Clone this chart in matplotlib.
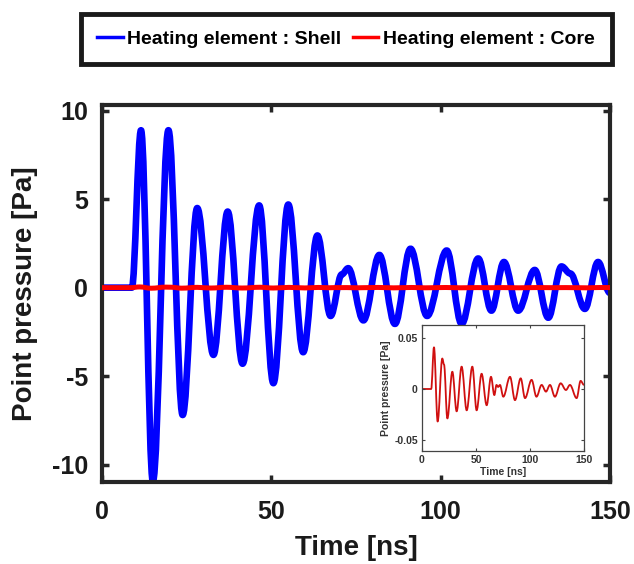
import matplotlib
matplotlib.use("Agg")
import matplotlib.pyplot as plt
from matplotlib.path import Path
from matplotlib.patches import PathPatch
from matplotlib.lines import Line2D

# --- values (turning points of each trace) ---
# Shell heating element: time [ns], point pressure [Pa]
shell_t = [0, 8.8, 11.5, 15.0, 19.6, 23.8, 28.1, 32.9, 37.1, 41.5, 46.4, 50.6,
           55.0, 59.4, 63.6, 67.5, 70.8, 72.7, 77.2, 81.9, 86.5, 91.1, 96.0,
           101.8, 106.2, 111.1, 115.0, 118.7, 122.9, 127.8, 131.8, 135.7,
           138.3, 142.6, 146.5, 150]
shell_p = [0, 0, 8.9, -10.95, 8.9, -7.2, 4.5, -3.8, 4.3, -4.3, 4.65, -5.4,
           4.7, -3.65, 2.95, -1.6, 0.75, 1.1, -1.85, 1.85, -2.05, 2.2, -1.6,
           2.1, -2.05, 1.65, -1.3, 1.45, -1.3, 1.0, -1.7, 1.2,
           0.8, -1.2, 1.45, -0.3]

# Core heating element: time [ns], point pressure [Pa]
core_t = [0, 8.5, 11.1, 14.5, 18.8, 20.4, 23.5, 28.1, 32.1, 36.7, 41.4, 46.6,
          50.6, 55.2, 59.9, 63.9, 67.0, 69.0, 70.5, 72.2, 75.3, 81.5, 86.1,
          91.4, 95.4, 101.5, 106.0, 110.8, 114.8, 118.5, 123.1, 128.4, 133.3,
          137.0, 143.2, 146.9, 150]
core_p = [0, 0, 0.041, -0.032, 0.030, 0.024, -0.029, 0.017, -0.022, 0.022,
          -0.021, 0.022, -0.021, 0.015, -0.016, 0.012, -0.006, 0.004, 0.002,
          0.004, -0.0076, 0.012, -0.011, 0.0105, -0.009, 0.009, -0.0076,
          0.004, -0.0026, 0.004, -0.0076, 0.0056, -0.001, 0.004, -0.009,
          0.008, 0.004]

x_ticks = [0, 50, 100, 150]
y_ticks = [-10, -5, 0, 5, 10]
inset_y_ticks = [-0.05, 0, 0.05]
inset_y_labels = ["-0.05", "0", "0.05"]
labels = ["Heating element : Shell", "Heating element : Core"]

BLUE = "#0000ff"
RED = "#ff0000"
DARK_RED = "#d01010"
AX_COL = "#262626"


def wave_path(t, p, k=0.36):
    # smooth curve through the turning points (flat tangent at each one)
    verts = [(t[0], p[0])]
    codes = [Path.MOVETO]
    for i in range(1, len(t)):
        dt = t[i] - t[i - 1]
        verts += [(t[i - 1] + k * dt, p[i - 1]), (t[i] - k * dt, p[i]), (t[i], p[i])]
        codes += [Path.CURVE4] * 3
    return Path(verts, codes)


plt.rcParams["font.family"] = ["Liberation Sans", "DejaVu Sans"]
plt.rcParams["font.weight"] = "bold"
plt.rcParams["axes.unicode_minus"] = False

fig = plt.figure(figsize=(6.34, 5.64), dpi=100)

# === main axes ===
ax = fig.add_axes([0.161, 0.145, 0.801, 0.668])
ax.add_patch(PathPatch(wave_path(shell_t, shell_p), fill=False, edgecolor=BLUE,
                       lw=4.8, capstyle="round", joinstyle="round", zorder=2))
ax.add_patch(PathPatch(wave_path(core_t, core_p), fill=False, edgecolor=RED,
                       lw=3.6, capstyle="round", joinstyle="round", zorder=3))
ax.set_xlim(0, 150)
ax.set_ylim(-11.0, 10.3)
ax.set_xticks(x_ticks)
ax.set_yticks(y_ticks)
ax.tick_params(direction="in", length=5, width=2.5, colors=AX_COL,
               labelcolor="#1a1a1a", labelsize=18, top=True, right=True, pad=10)
ax.tick_params(axis="x", pad=13)
for s in ax.spines.values():
    s.set_linewidth(3)
    s.set_color(AX_COL)
ax.set_xlabel("Time [ns]", fontsize=20, fontweight="bold", color="#1a1a1a", labelpad=8)
ax.set_ylabel("Point pressure [Pa]", fontsize=20, fontweight="bold", color="#1a1a1a", labelpad=10)

# === legend ===
handles = [Line2D([], [], color=BLUE, lw=2.5), Line2D([], [], color=RED, lw=2.5)]
leg = fig.legend(handles, labels, loc="center", bbox_to_anchor=(0.546, 0.931), ncol=2,
                 fancybox=False, edgecolor="#1a1a1a", framealpha=1,
                 prop={"weight": "bold", "size": 14}, handlelength=1.3,
                 handletextpad=0.25, columnspacing=0.6, borderpad=0.85,
                 borderaxespad=0)
leg.get_frame().set_linewidth(3.5)

# === inset: core trace zoomed ===
ins = fig.add_axes([0.6656, 0.2004, 0.2555, 0.2234])
ins.add_patch(PathPatch(wave_path(core_t, core_p), fill=False, edgecolor=DARK_RED,
                        lw=1.3, joinstyle="round"))
ins.set_xlim(0, 150)
ins.set_ylim(-0.061, 0.063)
ins.set_xticks(x_ticks)
ins.set_yticks(inset_y_ticks)
ins.set_yticklabels(inset_y_labels)
ins.tick_params(direction="in", length=2.5, width=0.8, colors="#444444",
                labelcolor="#333333", labelsize=7.5, top=True, right=True, pad=3)
for s in ins.spines.values():
    s.set_linewidth(0.9)
    s.set_color("#444444")
ins.set_xlabel("Time [ns]", fontsize=7.5, fontweight="bold", color="#333333", labelpad=1)
ins.set_ylabel("Point pressure [Pa]", fontsize=7.5, fontweight="bold", color="#333333", labelpad=2)

fig.savefig("out.png", dpi=100)
